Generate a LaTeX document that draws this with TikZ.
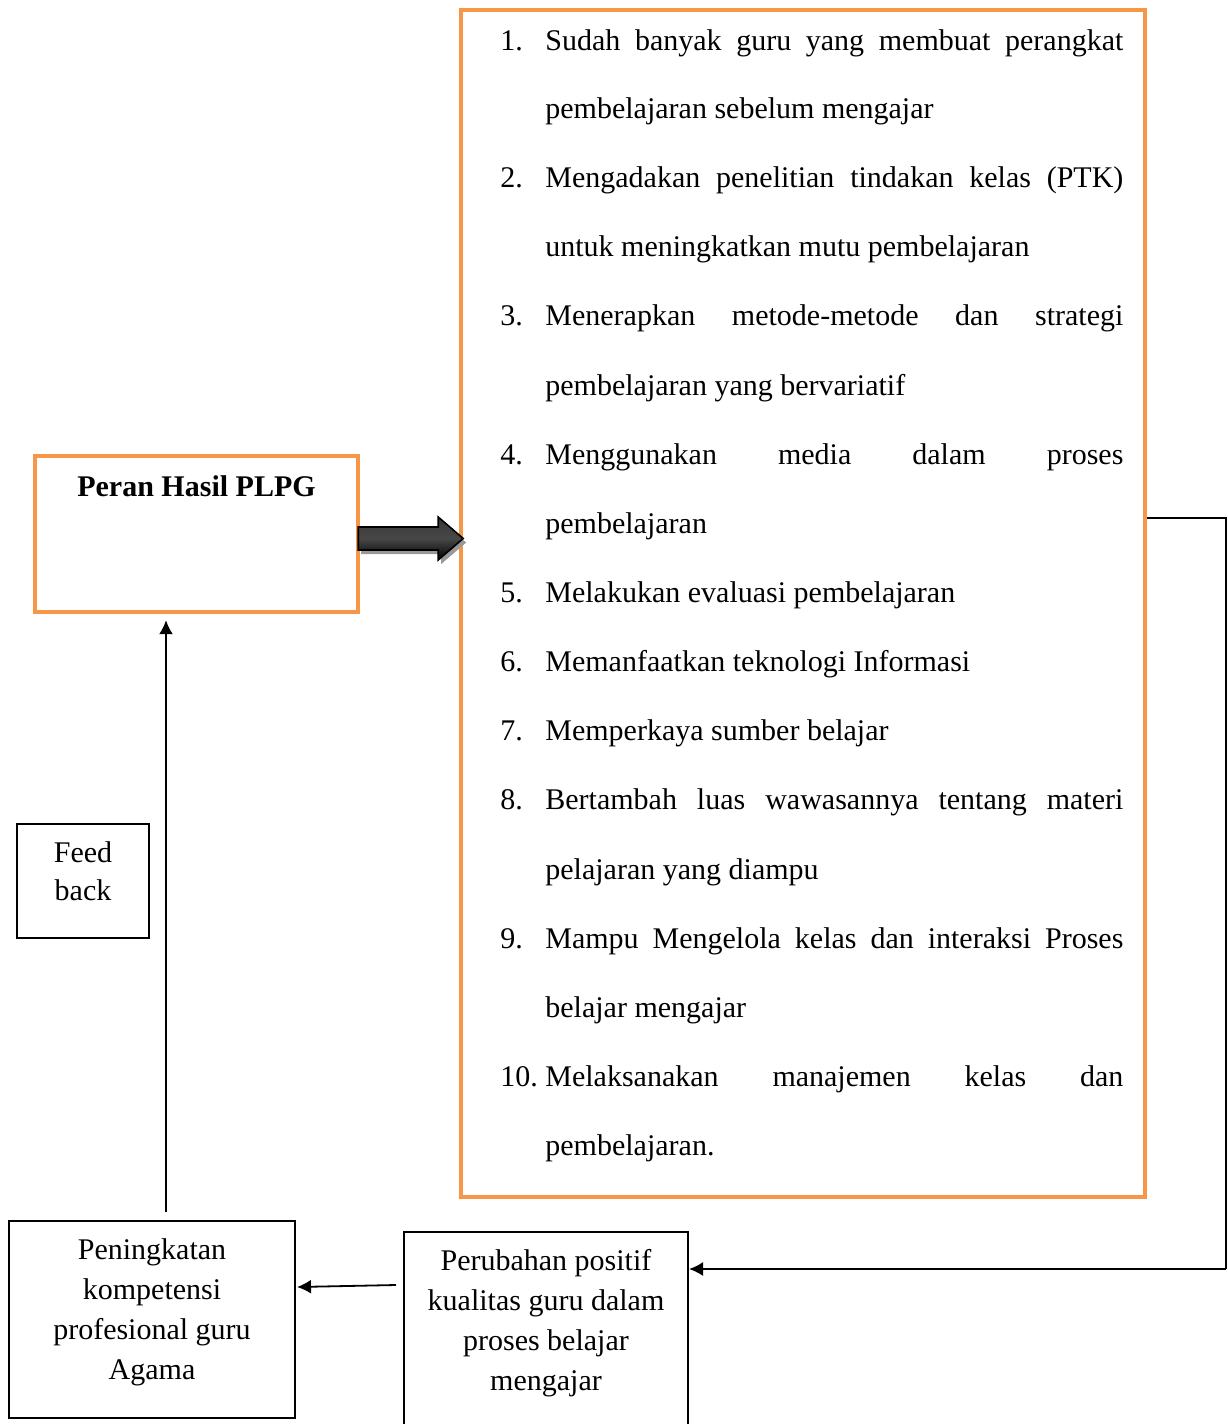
\documentclass[tikz,border=0pt]{standalone}
\usepackage{fontspec}
\setmainfont{Liberation Serif}
\usetikzlibrary{arrows.meta,calc,shadings}
\definecolor{orng}{HTML}{F79646}
\begin{document}
\begin{tikzpicture}[x=0.5pt,y=-0.5pt,
  txt/.style={font=\fontsize{15}{20}\selectfont, inner sep=0pt},
  item/.style={txt, anchor=base west},
  obox/.style={draw=orng, line width=2.2pt, rectangle, inner sep=0pt},
  kbox/.style={draw=black, line width=1pt, rectangle, inner sep=0pt},
  arr/.style={draw=black, line width=0.9pt, -{Latex[length=7pt,width=7pt]}},
  plain/.style={draw=black, line width=0.9pt}]
\clip (0,0) rectangle (1227,1424);
\fill[white] (0,0) rectangle (1227,1424);

% boxes
\node[obox, minimum width=342pt, minimum height=593.5pt] (list) at (803,603.5) {};
\node[obox, minimum width=161.5pt, minimum height=78pt] (peran) at (196.5,534) {};
\node[txt, font=\fontsize{15}{20}\selectfont\bfseries, anchor=base] (perant) at (196.5,496) {Peran Hasil PLPG};
\node[kbox, minimum width=66pt, minimum height=57pt] (fb) at (83,881) {};
\node[txt, align=center, font=\fontsize{15}{19}\selectfont] (fbt) at (83,871) {Feed\\back};
\node[kbox, minimum width=143pt, minimum height=98.5pt] (pen) at (152,1319.5) {};
\node[txt, align=center] (pent) at (152,1312) {Peningkatan\\kompetensi\\profesional guru\\Agama};
\node[kbox, minimum width=142pt, minimum height=110pt] (perb) at (546,1342) {};
\node[txt, align=center] (perbt) at (546,1323) {Perubahan positif\\kualitas guru dalam\\proses belajar\\mengajar};

% list items
\def\jw{\makebox[289pt][s]}
\node[item] (n1) at (500,50) {1.};
\node[item] (l1) at (545,50) {\jw{Sudah banyak guru yang membuat perangkat}};
\node[item] (l2) at (545,118) {pembelajaran sebelum mengajar};
\node[item] (n2) at (500,187) {2.};
\node[item] (l3) at (545,187) {\jw{Mengadakan penelitian tindakan kelas (PTK)}};
\node[item] (l4) at (545,256) {untuk meningkatkan mutu pembelajaran};
\node[item] (n3) at (500,325) {3.};
\node[item] (l5) at (545,325) {\jw{Menerapkan metode-metode dan strategi}};
\node[item] (l6) at (545,395) {pembelajaran yang bervariatif};
\node[item] (n4) at (500,464) {4.};
\node[item] (l7) at (545,464) {\jw{Menggunakan media dalam proses}};
\node[item] (l8) at (545,533) {pembelajaran};
\node[item] (n5) at (500,602) {5.};
\node[item] (l9) at (545,602) {Melakukan evaluasi pembelajaran};
\node[item] (n6) at (500,671) {6.};
\node[item] (l10) at (545,671) {Memanfaatkan teknologi Informasi};
\node[item] (n7) at (500,740) {7.};
\node[item] (l11) at (545,740) {Memperkaya sumber belajar};
\node[item] (n8) at (500,809) {8.};
\node[item] (l12) at (545,809) {\jw{Bertambah luas wawasannya tentang materi}};
\node[item] (l13) at (545,879) {pelajaran yang diampu};
\node[item] (n9) at (500,948) {9.};
\node[item] (l14) at (545,948) {\jw{Mampu Mengelola kelas dan interaksi Proses}};
\node[item] (l15) at (545,1017) {belajar mengajar};
\node[item] (n10) at (500,1086) {10.};
\node[item] (l16) at (545,1086) {\jw{Melaksanakan manajemen kelas dan}};
\node[item] (l17) at (545,1155) {pembelajaran.};

% thick block arrow from peran to list
\begin{scope}[shift={(peran.east)}]
  \fill[black!40] (1,-3) -- (81,-3) -- (81,-13) -- (106,8.5) -- (81,30) -- (81,20) -- (1,20) -- cycle;
  \path[draw=black, line width=0.8pt, top color=black!78, bottom color=black, middle color=black!72]
    (-2,-7) -- (78,-7) -- (78,-17) -- (103,4.5) -- (78,26) -- (78,16) -- (-2,16) -- cycle;
\end{scope}

% connectors
\coordinate (rt) at (1226,518);
\coordinate (rb) at (1226,1269);
\draw[plain] (list.east |- rt) -- (rt) -- (rb);
\draw[arr] (rb) -- (perb.east |- rb);
\draw[arr] ($(perb.north west)+(-7,54)$) -- ($(pen.north east)+(1,67)$);
\draw[arr] ($(pen.north)+(14,-8)$) -- ($(peran.south)+(-30.5,6)$);
\end{tikzpicture}
\end{document}
